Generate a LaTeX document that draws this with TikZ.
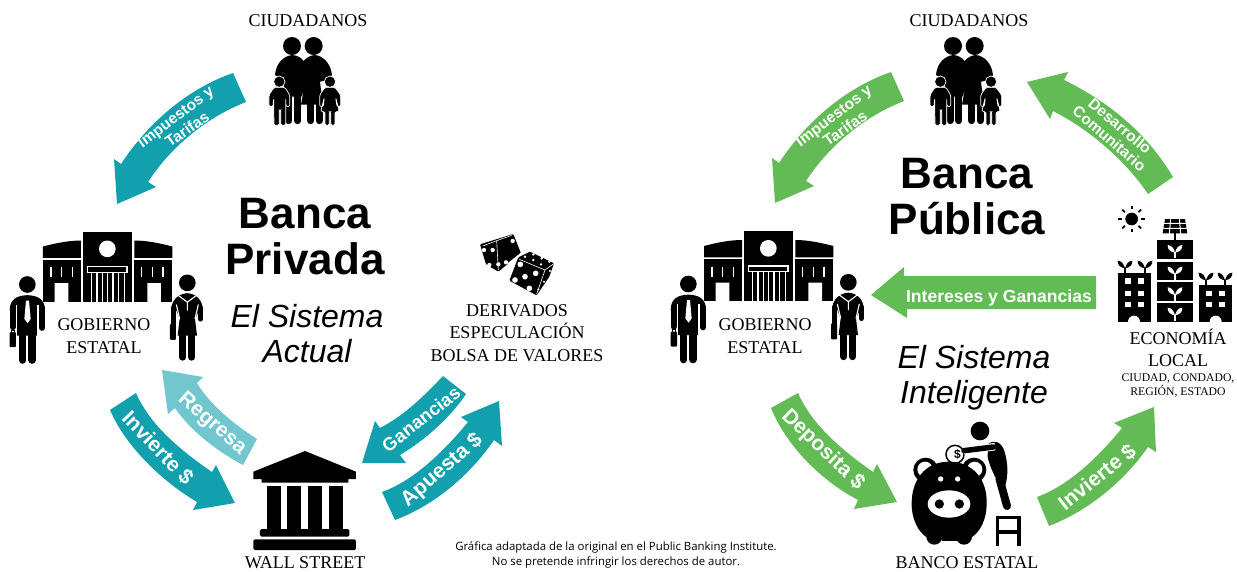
\documentclass[tikz,border=0pt]{standalone}
\usepackage{fontspec}
\setmainfont{Liberation Serif}
\setsansfont{Liberation Sans}
\newfontfamily\notefont{Open Sans}
\definecolor{tealband}{HTML}{12A0AE}
\definecolor{lightband}{HTML}{72C6CE}
\definecolor{greenband}{HTML}{62BB55}
\tikzset{
  zoomed/.style 2 args={shift={(#1,#2)},x=0.33333pt,y=-0.33333pt},
  caption/.style={font=\fontsize{18}{22.5}\selectfont,align=center,inner sep=0pt,text=black},
  smallcaption/.style={font=\fontsize{11.7}{14.5}\selectfont,align=center,inner sep=0pt},
  maintitle/.style={font=\sffamily\bfseries\fontsize{44}{46}\selectfont,align=center,inner sep=0pt},
  subtitle/.style={font=\sffamily\itshape\fontsize{32}{35}\selectfont,align=center,inner sep=0pt},
  notetext/.style={font=\notefont\fontsize{11.4}{15}\selectfont,align=center,inner sep=0pt},
  limb/.style={line cap=round,line width=#1},
  kid/.style={fill=black,draw=white,line width=0.7pt,rounded corners=1.5pt},
  bandlabel/.style={inner sep=0pt,text=white,font=\sffamily\bfseries\fontsize{#1}{#1}\selectfont},
}
\newcommand\familyicon[1]{%
  \begin{scope}[zoomed={#1}{0}]
    \fill (876,138) circle (27) (941,138) circle (27);
    \fill (825,225) .. controls (828,190) and (850,168) .. (877,165) .. controls (890,166) and (903,172) .. (911,183)
      .. controls (920,172) and (932,166) .. (945,165) .. controls (970,168) and (992,190) .. (996,225)
      -- (985,240) -- (960,245) -- (963,270) -- (977,314) -- (903,314) -- (912,265) -- (905,290) -- (855,290) -- (850,240) -- cycle;
    \draw[limb=7pt] (867,285) -- (867,362) (893,285) -- (893,362) (932,305) -- (932,362) (958,305) -- (958,362);
    \path[kid] (822,262) -- (855,262) -- (869,285) -- (869,320) -- (858,320) -- (857,295) -- (857,376) -- (842,376) -- (842,330)
      -- (838,330) -- (838,376) -- (822,376) -- (821,295) -- (819,320) -- (807,320) -- (807,285) -- cycle;
    \path[fill=black,draw=white,line width=0.7pt] (838,245) circle (17);
    \path[kid] (975,262) -- (1005,262) -- (1022,285) -- (1022,320) -- (1011,320) -- (1007,292) -- (1018,335) -- (1005,335) -- (1005,376)
      -- (992,376) -- (992,335) -- (988,335) -- (988,376) -- (975,376) -- (975,335) -- (962,335) -- (973,292) -- (970,320) -- (959,320) -- (959,285) -- cycle;
    \path[fill=black,draw=white,line width=0.7pt] (990,245) circle (17);
  \end{scope}}
\newcommand\governmenticon[2]{%
  \begin{scope}[zoomed={#1}{#2}]
    % central block
    \fill (282,33) rectangle (430,243);
    \fill[white] (355,85) circle (25);
    \draw[white,line width=1.3pt] (296,138) rectangle (414,155);
    \foreach \c in {307,324,341,372,389,406} \draw[white,line width=1.2pt] (\c,155) -- (\c,243);
    \draw[white,line width=1.2pt] (356,155) -- (356,243);
    % wings
    \fill (162,78) .. controls (200,68) and (240,60) .. (276,60) -- (276,112) -- (162,112) -- cycle;
    \fill (162,118) rectangle (276,243);
    \fill (550,78) .. controls (512,68) and (472,60) .. (436,60) -- (436,112) -- (550,112) -- cycle;
    \fill (436,118) rectangle (550,243);
    \foreach \c in {186,218,250,458,490,522} \draw[white,line width=1.4pt] (\c,140) -- (\c,170);
    \fill[white] (197,188) rectangle (238,244) (475,188) rectangle (516,244);
    % man
    \fill (115,192) circle (25);
    \fill (62,270) .. controls (62,235) and (85,225) .. (115,224) .. controls (145,225) and (168,235) .. (168,270)
      -- (150,270) -- (147,345) -- (83,345) -- (80,270) -- cycle;
    \draw[limb=6pt] (71,262) -- (71,320) (159,262) -- (159,322);
    \draw[limb=7.3pt] (101,330) -- (101,419) (129,330) -- (129,419);
    \draw[white,line width=1.3pt] (83,252) -- (83,345) (147,252) -- (147,345);
    \fill[white] (111,240) -- (120,240) -- (125,295) -- (116,308) -- (106,295) -- cycle;
    \fill[rounded corners=1pt] (62,335) rectangle (81,380);
    \draw[line width=0.7pt] (66,335) -- (66,329) -- (76,329) -- (76,335);
    % woman
    \fill (595,187) circle (25);
    \fill (546,270) .. controls (548,235) and (570,220) .. (595,218) .. controls (620,220) and (640,235) .. (642,270)
      -- (630,270) -- (618,295) -- (624,345) -- (566,345) -- (572,295) -- (562,270) -- cycle;
    \draw[limb=5.5pt] (554,262) -- (554,318) (634,262) -- (634,295);
    \draw[limb=7pt] (581,330) -- (581,410) (608,330) -- (608,410);
    \draw[white,line width=1.1pt] (568,225) -- (595,245) -- (622,225) (595,245) -- (595,270);
    \draw[white,line width=1.1pt] (562,252) -- (572,295) (628,252) -- (618,295);
    \fill[rounded corners=1pt] (543,310) rectangle (561,358);
  \end{scope}}
\newcommand\sprout[3]{\begin{scope}[shift={(#1,#2)}]
  \fill[#3] (0,0) .. controls (-4,-14) and (-10,-22) .. (-22,-23) .. controls (-23,-10) and (-14,-2) .. (0,0)
            (0,0) .. controls (4,-14) and (10,-22) .. (22,-23) .. controls (23,-10) and (14,-2) .. (0,0);
  \draw[#3,line width=1.8pt] (0,-2) -- (0,17);
\end{scope}}
\begin{document}
\begin{tikzpicture}[x=1pt,y=-1pt]
\useasboundingbox (0,0) rectangle (1237,571);
\fill[white] (0,0) rectangle (1237,571);

%% LEFT PANEL
\node[caption] (citizensL) at (308,21) {CIUDADANOS};
\familyicon{0}
\node[maintitle] (titleL) at (305,237) {Banca\\Privada};
\node[subtitle] (subL) at (307,333.5) {El Sistema\\Actual};
\governmenticon{-11}{220.5}
\node[caption] (govL) at (104,336) {GOBIERNO\\ESTATAL};
\node[caption] (dervL) at (517,333) {DERIVADOS\\ESPECULACIÓN\\BOLSA DE VALORES};
\node[caption] (wallst) at (305,563) {WALL STREET};

% dice
\begin{scope}[zoomed={340}{220}]
  \fill[rounded corners=1pt] (420,73) -- (520,42) -- (543,100) -- (475,155) -- (438,133) -- cycle;
  \draw[white,line width=0.6pt] (428,78) -- (470,62) -- (475,150) (470,62) -- (515,46);
  \foreach \p in {(518,63),(432,90),(458,90),(448,135),(475,133),(498,127)} \fill[white] \p circle (6.5);
  \draw[white,line width=2pt] (545,100) -- (505,132);
  \fill[rounded corners=1pt] (570,95) -- (642,130) -- (628,170) -- (590,226) -- (508,182) -- (535,112) -- cycle;
  \draw[white,line width=0.6pt] (538,118) -- (615,150) -- (590,222) (615,150) -- (640,132);
  \foreach \p in {(541,133),(587,160),(555,170),(525,180),(568,205)} \fill[white] \p circle (8.5);
  \foreach \p in {(555,110),(580,103),(580,120),(605,115),(603,133),(628,125)} \fill[white] \p circle (4);
  \foreach \p in {(630,153),(612,185),(595,208)} \fill[white] \p circle (3.5);
\end{scope}

% bank
\begin{scope}[zoomed={0}{280}]
  \fill (915,513) -- (1068,575) -- (1068,597) -- (1045,597) -- (1045,608) -- (785,608) -- (785,597) -- (760,597) -- (760,575) -- cycle;
  \foreach \a/\b in {802/842,862/903,925/966,988/1028} \fill (\a,618) rectangle (\b,750);
  \fill[rounded corners=1.5pt] (780,747) rectangle (1048,770);
  \fill[rounded corners=1.5pt] (760,778) rectangle (1068,810);
\end{scope}

% left arrows
\fill[tealband] (233,73) .. controls (190,88) and (150,120) .. (121,164) -- (114,159) -- (117,204) -- (156,187) -- (148,182) .. controls (170,148) and (205,118) .. (246,102) -- cycle;
\node[bandlabel=15.5,rotate=37] (taxL1) at (176.5,118) {Impuestos y};
\node[bandlabel=15.5,rotate=35] (taxL2) at (187,129) {Tarifas};
\fill[tealband] (110,410) -- (136,393) .. controls (150,425) and (180,450) .. (212,472) -- (216,465) -- (235,503) -- (193,510) -- (197,502) .. controls (160,480) and (125,445) .. (110,410) -- cycle;
\fill[lightband] (257,439) .. controls (235,425) and (210,405) .. (197,383) -- (203,377) -- (162,370) -- (168,414) -- (175,408) .. controls (190,430) and (215,450) .. (243,465) -- cycle;
\node[bandlabel=21,rotate=-41] (returnL) at (212,424) {Regresa};
\node[bandlabel=21,rotate=-46] (investL) at (158,448) {Invierte \$};
\fill[tealband] (443,376) .. controls (425,395) and (405,415) .. (380,428) -- (375,421) -- (362,463) -- (406,463) -- (400,455) .. controls (425,440) and (450,418) .. (466,394) -- cycle;
\node[bandlabel=18.5,rotate=38] (gainsL) at (421,419) {Ganancias};
\fill[tealband] (382,492) .. controls (415,480) and (445,450) .. (468,422) -- (461,417) -- (499,401) -- (502,446) -- (494,440) .. controls (470,475) and (435,505) .. (395,520) -- cycle;
\node[bandlabel=21,rotate=41] (betL) at (442,470) {Apuesta \$};

%% NOTE
\node[notetext] (note) at (616,555) {Gráfica adaptada de la original en el Public Banking Institute.\\No se pretende infringir los derechos de autor.};

%% RIGHT PANEL
\node[caption] (citizensR) at (969,21) {CIUDADANOS};
\familyicon{661}
\node[maintitle] (titleR) at (967,197) {Banca\\Pública};
\node[subtitle] (subR) at (974,378) {El Sistema\\Inteligente};
\governmenticon{650}{220}
\node[caption] (govR) at (765,336) {GOBIERNO\\ESTATAL};
\node[caption] (bancoest) at (967,563) {BANCO ESTATAL};
\node[caption] (econ) at (1178,348) {ECONOMÍA\\LOCAL};
\node[smallcaption] (econsub) at (1178,385.5) {CIUDAD, CONDADO,\\REGIÓN, ESTADO};

% city
\begin{scope}[zoomed={880}{20}]
  \fill (755,597) circle (19);
  \foreach \a in {0,45,...,315} \draw[line width=1.8pt] (755,597) ++(\a:29) -- ++(\a:11);
  \fill (855,597) -- (915,597) -- (922,640) -- (848,640) -- cycle;
  \draw[white,line width=1pt] (850,610) -- (920,610) (850,625) -- (920,625) (872,595) -- (868,642) (898,595) -- (902,642);
  \draw[line width=1.3pt] (885,640) -- (885,660);
  \foreach \a/\b in {660/718,725/780,787/842,848/905} {
    \fill (830,\a) rectangle (940,\b);
    \pgfmathsetmacro\j{\a+38}
    \sprout{885}{\j}{white}
  }
  \fill (715,758) rectangle (812,905);
  \fill (958,795) rectangle (1055,905);
  \sprout{735}{745}{black}
  \sprout{795}{745}{black}
  \sprout{978}{781}{black}
  \sprout{1035}{781}{black}
  \foreach \r in {775,812,845} \foreach \c in {735,775} \fill[white] (\c,\r) rectangle ++(18,17);
  \foreach \r in {812,845} \foreach \c in {978,1018} \fill[white] (\c,\r) rectangle ++(18,17);
  \fill[white] (762,905) circle (18) (1007,905) circle (18);
\end{scope}

% piggy bank and saver
\begin{scope}[zoomed={880}{300}]
  \draw[line width=1.5pt,fill=white] (225,463) circle (27);
  \node[inner sep=0pt,font=\sffamily\bfseries\fontsize{12}{12}\selectfont] (coin) at (232,463) {\$};
  \fill (137,510) circle (37) (282,510) circle (37);
  \fill[white] (135,508) circle (23) (284,508) circle (23);
  \fill (207,485) .. controls (280,485) and (322,540) .. (320,610) .. controls (320,660) and (300,695) .. (275,712) -- (140,712)
    .. controls (115,695) and (95,660) .. (95,610) .. controls (95,540) and (135,485) .. (207,485) -- cycle;
  \fill (163,710) circle (24) (252,710) circle (24);
  \fill (185,700) rectangle (230,722);
  \fill[white] (207,612) ellipse (64 and 41);
  \fill (178,612) circle (14) (238,612) circle (14);
  \fill[white] (182,537) circle (8) (233,537) circle (8);
  % saver
  \fill (300,393) circle (28);
  \fill (325,432) .. controls (342,418) and (362,425) .. (372,450) .. controls (385,490) and (385,525) .. (375,560) -- (345,530) -- (322,480) -- cycle;
  \draw[white,line width=1.2pt] (320,470) -- (335,520);
  \draw[white,line width=7.5pt] (345,440) -- (250,452);
  \draw[line width=5.5pt,line cap=round] (340,441) -- (252,452);
  \draw[line width=8pt,line cap=round] (358,535) -- (381,618);
  \draw[line width=3.2pt] (353,737) -- (353,652) -- (417,652) -- (417,737) (353,696) -- (417,696);
\end{scope}

% right arrows
\fill[greenband] (891,72) .. controls (848,87) and (808,119) .. (779,163) -- (772,158) -- (775,203) -- (814,186) -- (806,181) .. controls (828,147) and (863,117) .. (904,101) -- cycle;
\node[bandlabel=15.5,rotate=37] (taxR1) at (834.5,117) {Impuestos y};
\node[bandlabel=15.5,rotate=35] (taxR2) at (845,128) {Tarifas};
\fill[greenband] (1173,177) .. controls (1145,130) and (1105,100) .. (1064,80) -- (1068,72) -- (1027,82) -- (1050,119) -- (1053,111) .. controls (1090,130) and (1125,160) .. (1148,194) -- cycle;
\node[bandlabel=15.5,rotate=-40] (devR1) at (1120,126) {Desarrollo};
\node[bandlabel=15.5,rotate=-41] (devR2) at (1109.5,138.5) {Comunitario};
\fill[greenband] (1096,276) -- (904,276) -- (904,267) -- (871,295) -- (907,318) -- (907,309) -- (1096,309) -- cycle;
\node[inner sep=0pt,anchor=base,text=white,font=\sffamily\bfseries\fontsize{17.6}{18}\selectfont] (interest) at (999,302) {Intereses y Ganancias};
\fill[greenband] (1037,497) .. controls (1070,485) and (1100,455) .. (1122,428) -- (1114,423) -- (1154,407) -- (1156,452) -- (1148,447) .. controls (1125,480) and (1090,510) .. (1049,526) -- cycle;
\node[bandlabel=21,rotate=38.5] (investR) at (1097,477) {Invierte \$};
\fill[greenband] (771,408) -- (798,393) .. controls (812,425) and (842,450) .. (873,472) -- (877,464) -- (897,502) -- (854,509) -- (858,500) .. controls (820,480) and (786,445) .. (771,408) -- cycle;
\node[bandlabel=21,rotate=-44] (deposit) at (823,450) {Deposita \$};
\end{tikzpicture}
\end{document}
